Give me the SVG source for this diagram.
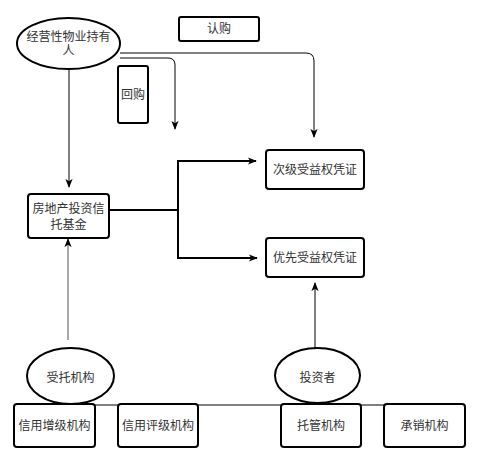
<svg xmlns="http://www.w3.org/2000/svg" width="479" height="465" viewBox="0 0 479 465">
<defs>
<style>
.n{fill:#fff;stroke:#000;stroke-width:2}
.t{font-family:"Liberation Sans","Noto Sans CJK SC",sans-serif;font-size:12px;fill:#333;text-anchor:middle}
.c{fill:none;stroke:#000;stroke-width:1}
.c2{fill:none;stroke:#000;stroke-width:2}
.cg{fill:none;stroke:#555;stroke-width:1}
</style>
<marker id="a" viewBox="0 0 10 10" refX="9" refY="5" markerWidth="9" markerHeight="9" markerUnits="userSpaceOnUse" orient="auto"><path d="M0,1 L10,5 L0,9 L2.5,5 Z" fill="#000"/></marker>
</defs>
<rect width="479" height="465" fill="#fff"/>
<g id="connectors">
<path class="c" d="M120,53 H306 Q314,53 314,61 V137" marker-end="url(#a)"/>
<path class="c" d="M120,58 H168 Q175,58 175,65 V129" marker-end="url(#a)"/>
<path class="c" d="M69,69 V187" marker-end="url(#a)"/>
<path class="c2" d="M109,210 H178"/>
<path class="c2" d="M178,210 V161 H256" marker-end="url(#a)"/>
<path class="c2" d="M178,210 V258 H257" marker-end="url(#a)"/>
<path class="cg" d="M68,340 V239" marker-end="url(#a)"/>
<path class="c" d="M315,348 V283" marker-end="url(#a)"/>
<path class="c" d="M95,405 H384"/>
</g>
<g id="holder"><ellipse class="n" cx="68.5" cy="43.5" rx="51.5" ry="25.5"/><text class="t" x="68.5" y="41">经营性物业持有</text><text class="t" x="68.5" y="55">人</text></g>
<g id="subscribe"><rect class="n" x="179" y="17" width="80" height="24" rx="2"/><text class="t" x="219" y="33">认购</text></g>
<g id="buyback"><rect class="n" x="118" y="66" width="30" height="57" rx="2"/><text class="t" x="133" y="99">回购</text></g>
<g id="reit"><rect class="n" x="28" y="194" width="81" height="44" rx="3"/><text class="t" x="68.5" y="213">房地产投资信</text><text class="t" x="68.5" y="229">托基金</text></g>
<g id="sub"><rect class="n" x="266" y="150" width="98" height="39" rx="3"/><text class="t" x="315" y="174">次级受益权凭证</text></g>
<g id="senior"><rect class="n" x="266" y="238" width="98" height="39" rx="3"/><text class="t" x="315" y="262">优先受益权凭证</text></g>
<g id="trustee"><ellipse class="n" cx="70.5" cy="376" rx="43.5" ry="28"/><text class="t" x="70.5" y="382">受托机构</text></g>
<g id="investor"><ellipse class="n" cx="317.5" cy="375.5" rx="42.5" ry="27.5"/><text class="t" x="317.5" y="382">投资者</text></g>
<g id="credit-enh"><rect class="n" x="14" y="404" width="81" height="43" rx="3"/><text class="t" x="54.5" y="430">信用增级机构</text></g>
<g id="rating"><rect class="n" x="118" y="404" width="80" height="43" rx="3"/><text class="t" x="158" y="430">信用评级机构</text></g>
<g id="custodian"><rect class="n" x="281" y="404" width="80" height="43" rx="3"/><text class="t" x="321" y="430">托管机构</text></g>
<g id="underwriter"><rect class="n" x="384" y="404" width="81" height="43" rx="3"/><text class="t" x="424.5" y="430">承销机构</text></g>
</svg>
